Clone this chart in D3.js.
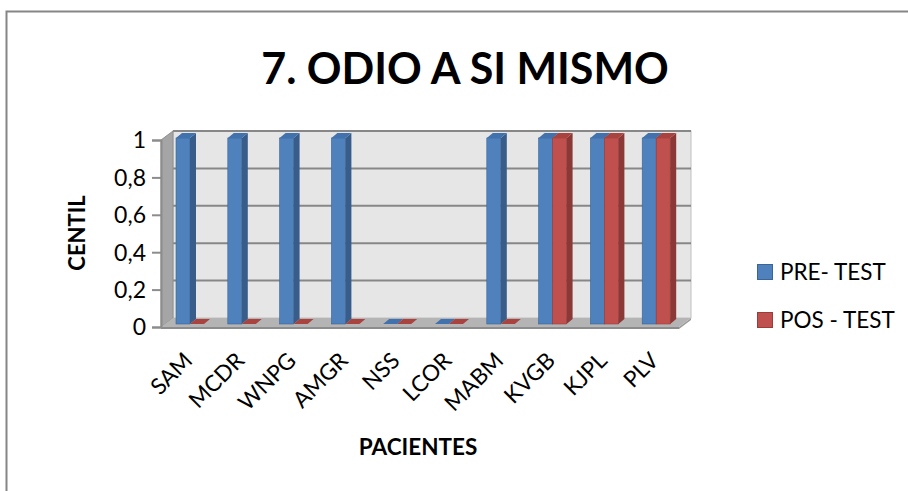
<!DOCTYPE html>
<html>
<head>
<meta charset="utf-8">
<script src="https://cdn.jsdelivr.net/npm/d3@7/dist/d3.min.js"></script>
<style>
  html, body { margin: 0; padding: 0; background: #fff; }
  svg { display: block; font-family: Lato, "Open Sans", sans-serif; }
</style>
</head>
<body>
<svg id="chart" width="908" height="491"></svg>
<script>
const categories = ["SAM", "MCDR", "WNPG", "AMGR", "NSS", "LCOR", "MABM", "KVGB", "KJPL", "PLV"];
const preTest = [1, 1, 1, 1, 0, 0, 1, 1, 1, 1];
const posTest = [0, 0, 0, 0, 0, 0, 0, 1, 1, 1];
const yTicks = [0, 0.2, 0.4, 0.6, 0.8, 1];
const seriesNames = ["PRE- TEST", "POS - TEST"];

const svg = d3.select("#chart");

// outer chart-area frame
svg.append("rect")
  .attr("x", 6.5).attr("y", 11.5).attr("width", 920).attr("height", 500)
  .attr("fill", "#fff").attr("stroke", "#868686").attr("stroke-width", 2);

// 3D box geometry: back wall plane, and offsets to the front plane
const depthDx = -12, depthDy = 9;
const x = d3.scaleBand().domain(categories).range([173, 691]);
const yBack = d3.scaleLinear().domain([0, 1]).range([318, 131]);
const yFront = d3.scaleLinear().domain([0, 1]).range([318 + depthDy, 131 + depthDy]);
const yBar = d3.scaleLinear().domain([0, 1]).range([324, 138]);

const x0 = x.range()[0], x1 = x.range()[1];

// back wall
svg.append("rect")
  .attr("x", x0).attr("y", yBack(1))
  .attr("width", x1 - x0).attr("height", yBack(0) - yBack(1))
  .attr("fill", "#e6e6e6").attr("stroke", "#c0c0c0").attr("stroke-width", 1);

// gridlines on the back wall
svg.append("g").selectAll("line").data(yTicks.filter(d => d > 0)).join("line")
  .attr("x1", x0).attr("x2", x1)
  .attr("y1", d => yBack(d)).attr("y2", d => yBack(d))
  .attr("stroke", "#878787").attr("stroke-width", 2);

// left side wall
svg.append("polygon")
  .attr("points", [
    [x0 + depthDx, yFront(1)], [x0, yBack(1)], [x0, yBack(0)], [x0 + depthDx, yFront(0)]
  ].join(" "))
  .attr("fill", "#a5a5a5").attr("stroke", "#8f8f8f").attr("stroke-width", 1);

// floor with a thin front edge
const floorFrontRight = x1 + depthDx;
svg.append("polygon")
  .attr("points", [
    [x0 + depthDx, yFront(0)], [floorFrontRight, yFront(0)], [floorFrontRight, yFront(0) + 2],
    [x0 + depthDx, yFront(0) + 2]
  ].join(" "))
  .attr("fill", "#8c8c8c");
svg.append("polygon")
  .attr("points", [
    [floorFrontRight, yFront(0)], [x1, yBack(0)], [x1, yBack(0) + 2], [floorFrontRight, yFront(0) + 2]
  ].join(" "))
  .attr("fill", "#9a9a9a");
svg.append("polygon")
  .attr("points", [
    [x0 + depthDx, yFront(0)], [x0, yBack(0)], [x1, yBack(0)], [floorFrontRight, yFront(0)]
  ].join(" "))
  .attr("fill", "#b4b4b4");

// y axis on the front-left edge
const fmt = d => String(d).replace(".", ",");
const yAxis = svg.append("g")
  .attr("transform", `translate(${x0 + depthDx},0)`)
  .call(d3.axisLeft(yFront).tickValues(yTicks).tickFormat(fmt).tickSize(9).tickPadding(6));
yAxis.select(".domain").attr("stroke", "#8c8c8c").attr("stroke-width", 2);
yAxis.selectAll(".tick line").attr("stroke", "#8c8c8c").attr("stroke-width", 2);
yAxis.selectAll(".tick text")
  .attr("font-family", "Lato, sans-serif").attr("font-size", 23).attr("fill", "#000")
  .attr("dy", "0.34em");

// bars drawn as front face, side face and top face
const barW = 14, bDx = 6, bDy = 5;
const colors = [
  { front: "#4f81bd", side: "#385d8a", top: "#4172ad", stroke: "#3b6596" },
  { front: "#c0504d", side: "#8c3836", top: "#a8433f", stroke: "#9a3c39" }
];
const barData = [];
categories.forEach((c, i) => {
  [preTest[i], posTest[i]].forEach((v, s) => {
    barData.push({ cat: c, series: s, value: v, left: x(c) + 3 + s * barW });
  });
});

const bars = svg.append("g").selectAll("g").data(barData).join("g");
bars.append("rect")
  .attr("x", d => d.left).attr("y", d => yBar(d.value))
  .attr("width", barW).attr("height", d => yBar(0) - yBar(d.value))
  .attr("fill", d => colors[d.series].front)
  .attr("stroke", d => colors[d.series].stroke).attr("stroke-width", 0.6);
bars.append("polygon")
  .attr("points", d => {
    const r = d.left + barW, t = yBar(d.value), b = yBar(0);
    return [[r, t], [r + bDx, t - bDy], [r + bDx, b - bDy], [r, b]].join(" ");
  })
  .attr("fill", d => colors[d.series].side);
bars.append("polygon")
  .attr("points", d => {
    const l = d.left, r = d.left + barW, t = yBar(d.value);
    return [[l, t], [l + bDx, t - bDy], [r + bDx, t - bDy], [r, t]].join(" ");
  })
  .attr("fill", d => colors[d.series].top);

// category labels, rotated
svg.append("g").selectAll("text").data(categories).join("text")
  .attr("transform", c => `translate(${x(c) + x.bandwidth() / 2 - 5},${362}) rotate(-45)`)
  .attr("text-anchor", "end")
  .attr("font-size", 22.5).attr("fill", "#000")
  .text(c => c);

// title
svg.append("text")
  .attr("x", 465).attr("y", 84).attr("text-anchor", "middle")
  .attr("font-size", 43).attr("font-weight", "bold").attr("fill", "#000")
  .text("7. ODIO A SI MISMO");

// axis titles
svg.append("text")
  .attr("transform", "translate(85,233) rotate(-90)")
  .attr("text-anchor", "middle")
  .attr("font-size", 22).attr("font-weight", "bold").attr("fill", "#000")
  .text("CENTIL");
svg.append("text")
  .attr("x", 418).attr("y", 455).attr("text-anchor", "middle")
  .attr("font-size", 22.5).attr("font-weight", "bold").attr("fill", "#000")
  .text("PACIENTES");

// legend
const legend = svg.append("g").selectAll("g").data(seriesNames).join("g")
  .attr("transform", (d, i) => `translate(757,${264 + i * 48})`);
legend.append("rect")
  .attr("x", 0.5).attr("y", 0.5).attr("width", 15).attr("height", 15)
  .attr("fill", (d, i) => colors[i].front)
  .attr("stroke", (d, i) => colors[i].stroke).attr("stroke-width", 1);
legend.append("text")
  .attr("x", 23).attr("y", 16)
  .attr("font-size", 22.5).attr("fill", "#000")
  .text(d => d);
</script>
</body>
</html>
